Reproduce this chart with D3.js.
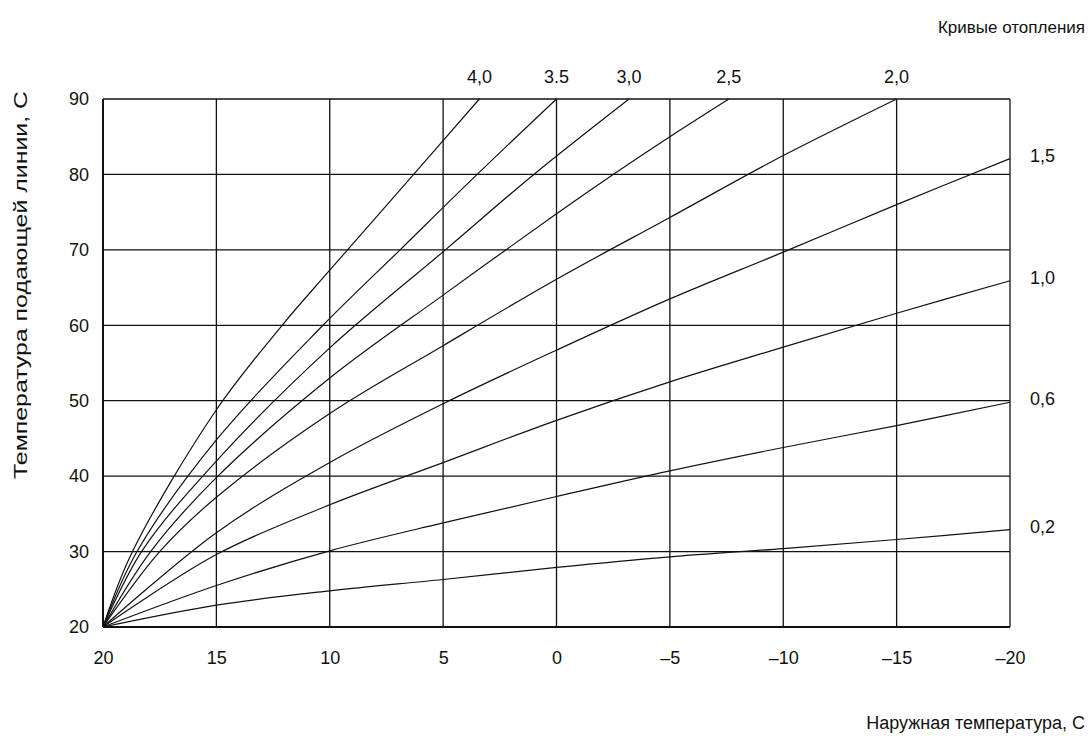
<!DOCTYPE html>
<html>
<head>
<meta charset="utf-8">
<script src="https://cdnjs.cloudflare.com/ajax/libs/d3/7.8.5/d3.min.js"></script>
<style>
  body { margin: 0; background: #fff; }
  text { font-family: "Liberation Sans", Arial, sans-serif; fill: #111; }
</style>
</head>
<body>
<div id="container"></div>
<script>
/* CONSTANTS AND GLOBALS */
const width = 1090,
  height = 742,
  margin = { top: 99, bottom: 115, left: 103, right: 80 };

// tick values
const xTicks = [20, 15, 10, 5, 0, -5, -10, -15, -20];
const yTicks = [20, 30, 40, 50, 60, 70, 80, 90];

// heating curves: [outdoor temp, flow temp]
const curve02 = [[20, 20], [15, 22.9], [10, 24.8], [5, 26.3], [0, 27.9], [-5, 29.3], [-10, 30.4], [-15, 31.6], [-20, 32.9]];
const curve06 = [[20, 20], [15, 25.5], [10, 30.1], [5, 33.8], [0, 37.3], [-5, 40.7], [-10, 43.8], [-15, 46.7], [-20, 49.8]];
const curve10 = [[20, 20], [15, 29.6], [10, 36.2], [5, 41.8], [0, 47.4], [-5, 52.5], [-10, 57.1], [-15, 61.6], [-20, 65.9]];
const curve15 = [[20, 20], [15, 32.5], [10, 41.8], [5, 49.6], [0, 56.7], [-5, 63.5], [-10, 69.7], [-15, 76], [-20, 82.1]];
const curve20 = [[20, 20], [17.5, 30], [15, 37.2], [10, 48.3], [5, 57.3], [0, 66.1], [-5, 74.3], [-10, 82.5], [-15, 90]];
const curve25 = [[20, 20], [17.9, 30], [15, 39.8], [10, 53], [5, 64], [0, 74.8], [-2.5, 80], [-5, 85], [-7.6, 90]];
const curve30 = [[20, 20], [18.3, 30], [15, 42], [10, 57], [4.9, 70], [1, 80], [-3.2, 90]];
const curve35 = [[20, 20], [18.5, 30], [15, 44.8], [10.3, 60], [6.9, 70], [3.5, 80], [0, 90]];
const curve40 = [[20, 20], [18.7, 30], [15, 48.8], [12.1, 60], [10, 67.3], [6.3, 80], [3.4, 90]];

const curves = [curve02, curve06, curve10, curve15, curve20, curve25, curve30, curve35, curve40];

// labels above the plot (curve ends at 90) and right of the plot (curve ends at -20)
const topLabels = ["4,0", "3.5", "3,0", "2,5", "2,0"];
const topCurves = [curve40, curve35, curve30, curve25, curve20];
const rightLabels = ["1,5", "1,0", "0,6", "0,2"];
const rightCurves = [curve15, curve10, curve06, curve02];

const formatTick = d => d < 0 ? "\u2013" + Math.abs(d) : String(d);

/* SCALES */
const xScale = d3.scaleLinear()
  .domain([20, -20])
  .range([margin.left, width - margin.right]);

const yScale = d3.scaleLinear()
  .domain([20, 90])
  .range([height - margin.bottom, margin.top]);

const svg = d3.select("#container")
  .append("svg")
  .attr("width", width)
  .attr("height", height);

/* GRID */
svg.append("g")
  .selectAll("line")
  .data(xTicks)
  .join("line")
  .attr("x1", d => xScale(d))
  .attr("x2", d => xScale(d))
  .attr("y1", yScale(20))
  .attr("y2", yScale(90))
  .attr("stroke", "#111")
  .attr("stroke-width", d => d === 20 ? 2 : 1.3);

svg.append("g")
  .selectAll("line")
  .data(yTicks)
  .join("line")
  .attr("x1", xScale(20))
  .attr("x2", xScale(-20))
  .attr("y1", d => yScale(d))
  .attr("y2", d => yScale(d))
  .attr("stroke", "#111")
  .attr("stroke-width", d => d === 20 ? 2 : 1.3);

/* AXES (labels only) */
const xAxis = d3.axisBottom(xScale)
  .tickValues(xTicks)
  .tickFormat(formatTick)
  .tickSize(0)
  .tickPadding(24);

const xAxisGroup = svg.append("g")
  .attr("transform", `translate(0, ${yScale(20)})`)
  .call(xAxis);
xAxisGroup.select(".domain").remove();
xAxisGroup.selectAll("text")
  .attr("font-size", 18)
  .attr("font-family", "Liberation Sans, Arial, sans-serif")
  .attr("fill", "#111");

const yAxis = d3.axisLeft(yScale)
  .tickValues(yTicks)
  .tickSize(0)
  .tickPadding(14);

const yAxisGroup = svg.append("g")
  .attr("transform", `translate(${xScale(20)}, 0)`)
  .call(yAxis);
yAxisGroup.select(".domain").remove();
yAxisGroup.selectAll("text")
  .attr("font-size", 18)
  .attr("font-family", "Liberation Sans, Arial, sans-serif")
  .attr("fill", "#111");

/* CURVES */
const lineGen = d3.line()
  .x(d => xScale(d[0]))
  .y(d => yScale(d[1]))
  .curve(d3.curveCatmullRom.alpha(0.5));

svg.append("g")
  .selectAll("path")
  .data(curves)
  .join("path")
  .attr("d", lineGen)
  .attr("fill", "none")
  .attr("stroke", "#111")
  .attr("stroke-width", 1.2);

/* CURVE LABELS */
svg.append("g")
  .selectAll("text")
  .data(topLabels)
  .join("text")
  .attr("x", (d, i) => xScale(topCurves[i][topCurves[i].length - 1][0]))
  .attr("y", yScale(90) - 16)
  .attr("text-anchor", "middle")
  .attr("font-size", 18)
  .text(d => d);

svg.append("g")
  .selectAll("text")
  .data(rightLabels)
  .join("text")
  .attr("x", xScale(-20) + 20)
  .attr("y", (d, i) => yScale(rightCurves[i][rightCurves[i].length - 1][1]) + 3)
  .attr("font-size", 18)
  .text(d => d);

/* TITLES */
svg.append("text")
  .attr("x", 1085)
  .attr("y", 33)
  .attr("text-anchor", "end")
  .attr("font-size", 17)
  .text("Кривые отопления");

svg.append("text")
  .attr("x", 1085)
  .attr("y", 729)
  .attr("text-anchor", "end")
  .attr("font-size", 18)
  .text("Наружная температура, С");

svg.append("text")
  .attr("transform", `translate(27, ${285}) rotate(-90)`)
  .attr("text-anchor", "middle")
  .attr("font-size", 19)
  .attr("textLength", 388)
  .attr("lengthAdjust", "spacingAndGlyphs")
  .text("Температура подающей линии, С");
</script>
</body>
</html>
